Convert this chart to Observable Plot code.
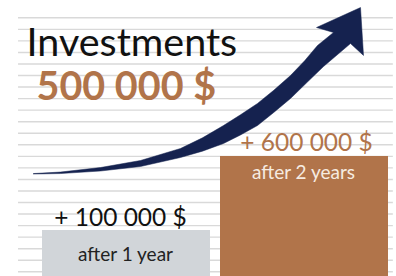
<!DOCTYPE html>
<html>
<head>
<meta charset="utf-8">
<script src="https://cdn.jsdelivr.net/npm/d3@7"></script>
<script src="https://cdn.jsdelivr.net/npm/@observablehq/plot@0.6"></script>
<style>
  html, body { margin: 0; padding: 0; background: #fff; overflow: hidden; }
  #wrap { position: relative; width: 396px; height: 276px; overflow: hidden; }
  #bg, #fg { position: absolute; left: 0; top: 0; }
</style>
</head>
<body>
<div id="wrap"><div id="bg"></div><div id="fg"></div></div>
<script>
// ---- data ----
const title = "Investments";
const total = "500 000 $";
const categories = ["after 1 year", "after 2 years"];
const gains = [100000, 600000];
const gainLabels = ["+ 100 000 $", "+ 600 000 $"];
// decorative ruled lines (row index)
const gridRows = [0,1,2,3,4,5,6,7,8,9,10,11,12,13,14,15,16,17,18,19,20,21,22];
// arrow outline (x in % of width, y in ruled rows)
const arrowX = [8.33,15.15,25.25,35.35,45.45,51.0,56.31,60.6,64.90,69.0,73.23,76.8,80.05,84.09,79.80,90.91,91.67,88.38,81.57,77.5,73.23,69.0,64.90,60.6,56.31,51.0,45.45,35.35,25.25,15.15,8.33];
const arrowY = [8.51,8.64,9.03,9.64,10.68,11.60,12.67,13.60,14.58,15.72,17.00,18.28,19.60,20.73,21.16,22.89,18.74,19.77,17.78,16.43,15.01,13.80,12.67,11.85,11.11,10.45,9.90,9.12,8.73,8.51,8.47];

const NAVY = "#15224f", BROWN = "#b1744a", GREY = "#d1d5d9";
const table = categories.map((c, i) => ({cat: c, value: gains[i], change: gainLabels[i], idx: i}));
const arrow = arrowX.map((x, i) => ({x, y: arrowY[i]}));

// ---- background layer: ruled lines + arrow ----
const bg = Plot.plot({
  width: 396, height: 276,
  margin: 0,
  style: {background: "transparent"},
  x: {domain: [0, 100], range: [0, 396], axis: null},
  y: {domain: [0, 22], range: [271.3, 17.3], axis: null},
  marks: [
    Plot.ruleY(gridRows, {y: d => d, x1: 4.55, x2: 99.2, stroke: "#d9d9d9", strokeWidth: 1.4}),
    Plot.line(arrow, {x: "x", y: "y", fill: NAVY, stroke: NAVY, strokeWidth: 0.5, curve: "linear"})
  ]
});
document.getElementById("bg").append(bg);

// ---- foreground layer: bars, labels, titles ----
const first = table.filter(d => d.idx === 0);
const second = table.filter(d => d.idx === 1);
const fg = Plot.plot({
  width: 396, height: 276,
  margin: 0,
  style: {background: "transparent", fontFamily: "Lato"},
  x: {domain: categories, range: [42, 388.7], paddingInner: 0.056, paddingOuter: 0, axis: null},
  y: {type: "sqrt", domain: [0, 1000000], range: [281.05, 119.6], axis: null},
  color: {domain: categories, range: [GREY, BROWN]},
  marks: [
    Plot.barY(table, {x: "cat", y: "value", fill: "cat", clip: true}),
    Plot.text(first, {x: "cat", y: "value", text: "change", lineAnchor: "bottom", dy: -4, dx: -6, fontSize: 24.5, fill: "#111", fontFamily: "Lato"}),
    Plot.text(second, {x: "cat", y: "value", text: "change", lineAnchor: "bottom", dy: -5, dx: 2, fontSize: 24.5, fill: BROWN, fontFamily: "Lato"}),
    Plot.text(first, {x: "cat", y: "value", text: "cat", lineAnchor: "bottom", dy: 30.5, dx: -1, fontSize: 19, fill: "#222", fontFamily: "Lato"}),
    Plot.text(second, {x: "cat", y: "value", text: "cat", lineAnchor: "bottom", dy: 23, dx: -1, fontSize: 19, fill: "#f6ebe1", fontFamily: "Lato"}),
    Plot.text([title], {frameAnchor: "top-left", text: d => d, textAnchor: "start", lineAnchor: "bottom", dx: 26, dy: 55.5, fontSize: 39.5, fill: "#111", fontFamily: "Lato"}),
    Plot.text([total], {frameAnchor: "top-left", text: d => d, textAnchor: "start", lineAnchor: "bottom", dx: 36, dy: 99.5, fontSize: 39.5, fontWeight: "bold", fill: BROWN, fontFamily: "Lato"})
  ]
});
document.getElementById("fg").append(fg);
</script>
</body>
</html>
